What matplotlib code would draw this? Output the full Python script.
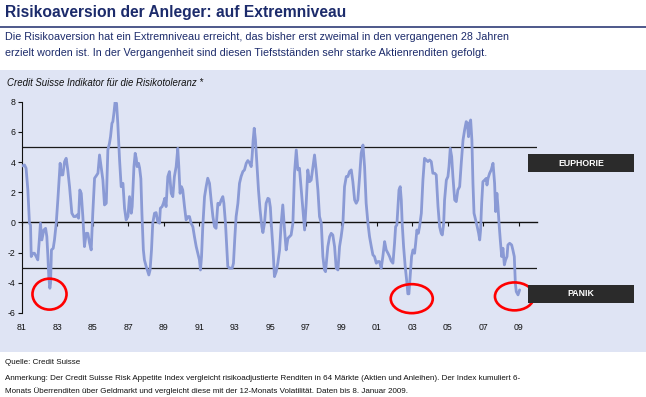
import matplotlib
matplotlib.use("Agg")
import matplotlib.pyplot as plt
from matplotlib.patches import Rectangle, Ellipse
from matplotlib import font_manager as fm

# ---------------- data ----------------
years = [
    1981.00, 1981.14, 1981.23, 1981.33, 1981.42, 1981.48, 1981.52, 1981.61, 1981.70, 1981.80,
    1981.89, 1981.99, 1982.04, 1982.12, 1982.23, 1982.33, 1982.40, 1982.46, 1982.51, 1982.57,
    1982.61, 1982.66, 1982.76, 1982.83, 1982.93, 1983.02, 1983.15, 1983.21, 1983.30, 1983.40,
    1983.49, 1983.58, 1983.68, 1983.81, 1983.92, 1984.02, 1984.11, 1984.19, 1984.26, 1984.34,
    1984.43, 1984.52, 1984.62, 1984.71, 1984.81, 1984.90, 1984.99, 1985.09, 1985.18, 1985.28,
    1985.37, 1985.46, 1985.56, 1985.65, 1985.75, 1985.84, 1985.93, 1985.99, 1986.07, 1986.12,
    1986.18, 1986.25, 1986.33, 1986.40, 1986.50, 1986.59, 1986.69, 1986.78, 1986.87, 1986.97,
    1987.06, 1987.16, 1987.21, 1987.31, 1987.38, 1987.44, 1987.49, 1987.57, 1987.63, 1987.70,
    1987.76, 1987.84, 1987.90, 1988.00, 1988.09, 1988.15, 1988.22, 1988.30, 1988.37, 1988.47,
    1988.56, 1988.65, 1988.75, 1988.80, 1988.90, 1988.97, 1989.05, 1989.12, 1989.22, 1989.31,
    1989.41, 1989.50, 1989.59, 1989.69, 1989.78, 1989.84, 1989.91, 1989.99, 1990.06, 1990.16,
    1990.25, 1990.35, 1990.44, 1990.53, 1990.63, 1990.72, 1990.82, 1990.91, 1991.00, 1991.06,
    1991.12, 1991.19, 1991.29, 1991.38, 1991.47, 1991.57, 1991.66, 1991.76, 1991.85, 1991.94,
    1992.04, 1992.13, 1992.23, 1992.32, 1992.38, 1992.47, 1992.54, 1992.60, 1992.70, 1992.79,
    1992.85, 1992.92, 1993.00, 1993.07, 1993.17, 1993.26, 1993.35, 1993.45, 1993.54, 1993.64,
    1993.73, 1993.82, 1993.92, 1993.97, 1994.03, 1994.09, 1994.16, 1994.24, 1994.33, 1994.42,
    1994.52, 1994.58, 1994.67, 1994.76, 1994.86, 1994.93, 1995.00, 1995.05, 1995.14, 1995.23,
    1995.33, 1995.42, 1995.52, 1995.61, 1995.70, 1995.80, 1995.89, 1995.99, 1996.08, 1996.17,
    1996.27, 1996.36, 1996.46, 1996.55, 1996.64, 1996.74, 1996.83, 1996.93, 1997.02, 1997.11,
    1997.21, 1997.30, 1997.40, 1997.49, 1997.58, 1997.68, 1997.77, 1997.87, 1997.96, 1998.05,
    1998.11, 1998.19, 1998.24, 1998.34, 1998.43, 1998.52, 1998.62, 1998.71, 1998.81, 1998.90,
    1998.99, 1999.09, 1999.18, 1999.28, 1999.37, 1999.46, 1999.56, 1999.65, 1999.75, 1999.84,
    1999.93, 2000.03, 2000.12, 2000.22, 2000.31, 2000.40, 2000.50, 2000.59, 2000.69, 2000.78,
    2000.87, 2000.97, 2001.06, 2001.15, 2001.25, 2001.34, 2001.44, 2001.53, 2001.63, 2001.72,
    2001.81, 2001.91, 2002.00, 2002.06, 2002.13, 2002.25, 2002.32, 2002.38, 2002.43, 2002.51,
    2002.60, 2002.70, 2002.75, 2002.81, 2002.89, 2002.96, 2003.04, 2003.13, 2003.19, 2003.26,
    2003.34, 2003.41, 2003.51, 2003.60, 2003.69, 2003.79, 2003.88, 2003.98, 2004.07, 2004.16,
    2004.26, 2004.35, 2004.45, 2004.54, 2004.63, 2004.69, 2004.77, 2004.82, 2004.92, 2005.01,
    2005.07, 2005.14, 2005.22, 2005.29, 2005.39, 2005.48, 2005.57, 2005.67, 2005.76, 2005.86,
    2005.95, 2006.04, 2006.10, 2006.17, 2006.23, 2006.29, 2006.36, 2006.42, 2006.48, 2006.57,
    2006.66, 2006.74, 2006.80, 2006.85, 2006.91, 2006.98, 2007.08, 2007.17, 2007.21, 2007.27,
    2007.36, 2007.45, 2007.55, 2007.64, 2007.70, 2007.77, 2007.83, 2007.89, 2007.96, 2008.04,
    2008.11, 2008.19, 2008.26, 2008.34, 2008.39, 2008.49, 2008.60, 2008.67, 2008.75, 2008.81,
    2008.86, 2008.96, 2009.05,
]
index_values = [
    3.74, 3.81, 3.59, 2.15, -0.05, -0.17, -2.26, -2.04, -2.04, -2.26,
    -2.48, -0.94, -0.05, -1.16, -0.50, -0.39, -0.94, -2.26, -3.59, -4.36,
    -4.03, -1.82, -1.71, -1.16, -0.05, 1.49, 3.92, 3.15, 3.15, 4.03,
    4.25, 3.48, 2.37, 0.61, 0.39, 0.39, 0.50, 0.28, 2.15, 1.93,
    0.39, -1.60, -0.72, -0.72, -1.38, -1.82, 0.61, 2.93, 3.08, 3.26,
    4.47, 3.70, 2.81, 1.16, 1.27, 4.80, 5.24, 5.68, 6.57, 6.68,
    7.23, 8.00, 7.89, 6.57, 4.14, 2.37, 2.59, 0.94, 0.17, 0.39,
    1.71, 0.61, 1.05, 3.70, 4.58, 4.25, 3.70, 3.92, 3.60, 2.90,
    0.60, -1.80, -2.48, -2.92, -3.26, -3.48, -3.15, -1.82, -0.05, 0.61,
    0.65, 0.05, -0.05, 0.94, 1.05, 1.27, 1.60, 1.05, 3.04, 3.37,
    1.93, 1.71, 3.04, 3.70, 4.91, 3.70, 1.93, 2.37, 2.15, 1.05,
    0.17, 0.39, 0.39, -0.05, -0.28, -0.94, -1.60, -2.04, -2.48, -3.15,
    -2.26, -0.28, 1.71, 2.37, 2.93, 2.59, 1.49, 0.39, -0.28, -0.39,
    1.27, 1.16, 1.49, 1.71, 1.27, -0.05, -1.60, -2.92, -3.03, -3.03,
    -3.03, -2.70, -0.94, 0.39, 1.27, 2.59, 3.04, 3.37, 3.48, 3.92,
    4.10, 3.96, 3.70, 4.36, 5.46, 6.24, 5.46, 3.92, 2.15, 0.83,
    -0.28, -0.67, -0.05, 1.27, 1.60, 1.55, 1.00, -0.05, -1.60, -3.59,
    -3.26, -2.70, -1.82, -0.05, 1.16, -0.50, -1.82, -1.05, -0.94, -0.83,
    -0.05, 3.26, 4.80, 3.48, 3.59, 2.15, 0.83, -0.50, 1.27, 3.48,
    2.70, 2.81, 3.70, 4.47, 3.48, 2.15, 0.39, -0.05, -2.26, -3.15,
    -3.26, -2.26, -1.60, -0.94, -0.72, -0.83, -1.60, -3.03, -3.15, -1.60,
    -0.94, -0.05, 2.37, 3.04, 3.04, 3.37, 3.48, 2.70, 1.49, 1.27,
    1.49, 3.04, 4.58, 5.13, 3.70, 1.27, -0.05, -0.94, -1.60, -2.15,
    -2.26, -2.70, -2.59, -2.59, -3.03, -2.26, -1.27, -1.82, -2.04, -2.26,
    -2.55, -2.70, -1.38, -0.28, -0.17, 2.15, 2.37, 1.49, -0.05, -1.60,
    -2.92, -4.03, -4.73, -4.73, -3.37, -2.26, -1.82, -2.04, -1.38, -0.50,
    -0.72, -0.28, 0.61, 2.81, 4.25, 4.14, 4.03, 4.14, 4.03, 3.26,
    3.26, 3.15, 1.05, -0.28, -0.72, -0.83, -0.05, 1.49, 2.81, 3.04,
    3.70, 4.91, 4.36, 3.04, 1.49, 1.38, 2.15, 2.37, 3.92, 5.46,
    6.13, 6.68, 6.57, 5.68, 6.57, 6.79, 5.46, 2.59, 0.61, 0.17,
    -0.28, -0.72, -1.16, -0.50, 1.27, 2.70, 2.81, 2.92, 2.48, 2.92,
    3.26, 3.48, 3.92, 2.59, 0.72, 1.93, 1.05, -0.05, -1.16, -2.26,
    -1.71, -2.81, -2.48, -2.26, -1.49, -1.38, -1.49, -1.82, -2.26, -4.03,
    -4.58, -4.80, -4.47,
]
tick_years = list(range(1981, 2010, 2))
tick_labels = ["81", "83", "85", "87", "89", "91", "93", "95", "97", "99",
               "01", "03", "05", "07", "09"]
y_ticks = [8, 6, 4, 2, 0, -2, -4, -6]
zone_lines = [5, -3]
zone_labels = ["EUPHORIE", "PANIK"]
# annotation circles around the three panic lows (centre year, centre value)
circle_years = [1982.55, 2002.97, 2008.76]
circle_values = [-4.75, -5.05, -4.90]
circle_widths = [1.92, 2.37, 2.20]
circle_heights = [2.05, 1.92, 1.85]

title = "Risikoaversion der Anleger: auf Extremniveau"
subtitle_1 = "Die Risikoaversion hat ein Extremniveau erreicht, das bisher erst zweimal in den vergangenen 28 Jahren"
subtitle_2 = "erzielt worden ist. In der Vergangenheit sind diesen Tiefstständen sehr starke Aktienrenditen gefolgt."
chart_caption = "Credit Suisse Indikator für die Risikotoleranz *"
source = "Quelle: Credit Suisse"
note_1 = ("Anmerkung: Der Credit Suisse Risk Appetite Index vergleicht risikoadjustierte Renditen "
          "in 64 Märkte (Aktien und Anleihen). Der Index kumuliert 6-")
note_2 = ("Monats Überrenditen über Geldmarkt und vergleicht diese mit der 12-Monats Volatilität. "
          "Daten bis 8. Januar 2009.")

# ---------------- layout ----------------
W, H = 646, 397
def fx(px):
    return px / W
def fy(py):
    return 1 - py / H

plt.rcParams["axes.unicode_minus"] = False
names = {f.name for f in fm.fontManager.ttflist}
REG = "Liberation Sans" if "Liberation Sans" in names else "DejaVu Sans"
NARROW = "Liberation Sans Narrow" if "Liberation Sans Narrow" in names else REG
plt.rcParams["font.family"] = [REG, "DejaVu Sans"]

NAVY = "#1c2b6b"
BG = "#dfe4f4"
LINE = "#8a9ad5"

fig = plt.figure(figsize=(W / 100, H / 100), dpi=100)
fig.patch.set_facecolor("white")
renderer = fig.canvas.get_renderer()

def fit_width(t, target_px):
    w = t.get_window_extent(renderer=renderer).width
    t.set_fontsize(t.get_fontsize() * target_px / w)

# chart background panel
fig.add_artist(Rectangle((0, fy(352)), 1, fy(70) - fy(352), transform=fig.transFigure,
                         facecolor=BG, edgecolor="none", zorder=0))
# rule under the title
fig.add_artist(plt.Line2D([0, 1], [fy(26.5), fy(26.5)], transform=fig.transFigure,
                          color=NAVY, lw=1.1))

t = fig.text(fx(5), fy(12), title, fontsize=11, fontweight="bold", color=NAVY,
             va="center", ha="left", family=[REG, "DejaVu Sans"])
fit_width(t, 342)
s1 = fig.text(fx(5), fy(37), subtitle_1, fontsize=9, color=NAVY, va="center", ha="left",
              family=[NARROW, "DejaVu Sans"])
fit_width(s1, 502)
fig.text(fx(5), fy(53.5), subtitle_2, fontsize=s1.get_fontsize(), color=NAVY, va="center",
         ha="left", family=[NARROW, "DejaVu Sans"])

c = fig.text(fx(7), fy(83), chart_caption, fontsize=6, style="italic", color="#111111",
             va="center", ha="left", family=[REG, "DejaVu Sans"])
fit_width(c, 196)

q = fig.text(fx(5), fy(362.5), source, fontsize=6, color="#111111", va="center", ha="left",
             family=[NARROW, "DejaVu Sans"])
n1 = fig.text(fx(5), fy(379), note_1, fontsize=6, color="#111111", va="center", ha="left",
              family=[NARROW, "DejaVu Sans"])
fit_width(n1, 525)
q.set_fontsize(n1.get_fontsize())
fig.text(fx(5), fy(391), note_2, fontsize=n1.get_fontsize(), color="#111111", va="center",
         ha="left", family=[NARROW, "DejaVu Sans"])

# ---------------- axes ----------------
ax = fig.add_axes([fx(22), fy(313), fx(537) - fx(22), fy(101.7) - fy(313)])
ax.patch.set_alpha(0)
ax.set_xlim(1981, 2010.03)
ax.set_ylim(-6, 8)

ax.plot(years, index_values, color=LINE, lw=2.0, solid_joinstyle="round",
        solid_capstyle="round", zorder=3)
for v in zone_lines:
    ax.axhline(v, color="#1a1a1a", lw=0.9, zorder=2)

for xc, yc, w, h in zip(circle_years, circle_values, circle_widths, circle_heights):
    ax.add_patch(Ellipse((xc, yc), w, h, fill=False, edgecolor="#ff0000", lw=1.9,
                         clip_on=False, zorder=5))

for side in ("top", "right"):
    ax.spines[side].set_visible(False)
ax.spines["left"].set_color("#111111")
ax.spines["left"].set_linewidth(0.8)
ax.spines["bottom"].set_position(("data", 0))
ax.spines["bottom"].set_color("#111111")
ax.spines["bottom"].set_linewidth(1.0)

ax.set_yticks(y_ticks)
ax.set_yticklabels([str(v) for v in y_ticks])
ax.tick_params(axis="y", direction="out", length=2.6, width=0.8, pad=2.2,
               labelsize=6.3, colors="#111111")
ax.set_xticks(tick_years)
ax.tick_params(axis="x", direction="out", length=2.6, width=0.8, labelbottom=False,
               colors="#111111")

sec = ax.secondary_xaxis(0.0)
sec.set_xticks(tick_years)
sec.set_xticklabels(tick_labels)
sec.tick_params(axis="x", length=0, pad=7.5, labelsize=6.3, colors="#111111")
sec.spines["bottom"].set_visible(False)

# zone labels (dark boxes on the right)
for lab, top in zip(zone_labels, [154, 285]):
    fig.add_artist(Rectangle((fx(528), fy(top + 18)), fx(634) - fx(528), fy(top) - fy(top + 18),
                             transform=fig.transFigure, facecolor="#2b2b2b",
                             edgecolor="none", zorder=6))
    fig.text(fx(581), fy(top + 9), lab, fontsize=6.3, fontweight="bold", color="white",
             ha="center", va="center", zorder=7, family=[REG, "DejaVu Sans"])

fig.savefig("out.png", dpi=100, facecolor=fig.get_facecolor())
